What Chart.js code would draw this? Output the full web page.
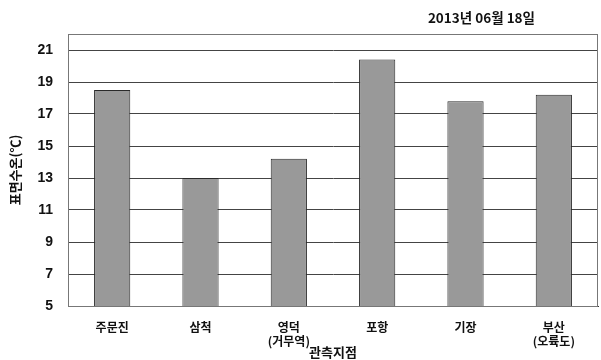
<!DOCTYPE html>
<html>
<head>
<meta charset="utf-8">
<script src="https://cdn.jsdelivr.net/npm/chart.js@4"></script>
<style>
  html, body { margin: 0; padding: 0; background: #fff; }
  #wrap { width: 601px; height: 360px; }
</style>
</head>
<body>
<div id="wrap"><canvas id="grafico" width="601" height="360"></canvas></div>
<script>
// dados
const categorias = ['주문진', '삼척', ['영덕', '(거무역)'], '포항', '기장', ['부산', '(오륙도)']];
const temperaturas = [18.5, 13.0, 14.2, 20.4, 17.8, 18.2];
const ticksY = [5, 7, 9, 11, 13, 15, 17, 19, 21];
const dataTexto = '2013년 06월 18일';

const fonteBase = "'Liberation Sans', 'Noto Sans CJK KR', sans-serif";
const fonteKR = "'Noto Sans CJK KR', 'Liberation Sans', sans-serif";

// moldura do gráfico + data no canto
const molduraPlugin = {
    id: 'moldura',
    afterDraw(chart) {
        const { ctx, chartArea } = chart;
        ctx.save();
        ctx.strokeStyle = '#777';
        ctx.lineWidth = 1;
        ctx.strokeRect(chartArea.left + 0.5, chartArea.top + 0.5, chartArea.right - chartArea.left - 1, chartArea.bottom - chartArea.top);
        ctx.fillStyle = '#111';
        ctx.font = "bold 13.5px " + fonteKR;
        ctx.textAlign = 'right';
        ctx.textBaseline = 'middle';
        ctx.fillText(dataTexto, chartArea.right - 63, 18);
        ctx.restore();
    }
};

new Chart(document.getElementById('grafico').getContext('2d'), {
    type: 'bar',
    data: {
        labels: categorias,
        datasets: [{
            data: temperaturas,
            backgroundColor: '#999999',
            borderColor: '#2a2a2a',
            borderWidth: 1,
            barPercentage: 0.41,
            categoryPercentage: 1
        }]
    },
    options: {
        responsive: false,
        animation: false,
        layout: { padding: { top: 34, right: 3, left: 0, bottom: 0 } },
        plugins: {
            legend: { display: false },
            tooltip: { enabled: false }
        },
        scales: {
            x: {
                grid: { display: false },
                border: { display: true, color: '#333' },
                ticks: {
                    color: '#111',
                    padding: 6,
                    font: { family: fonteKR, weight: 'bold', size: 12 },
                    maxRotation: 0
                },
                title: {
                    display: true,
                    text: '관측지점',
                    color: '#111',
                    font: { family: fonteKR, weight: 'bold', size: 13 },
                    padding: { top: -7, bottom: 0 }
                },
                afterFit(scale) { scale.height = 54; }
            },
            y: {
                min: 5,
                max: 22,
                afterBuildTicks(scale) {
                    scale.ticks = ticksY.concat([22]).map(v => ({ value: v }));
                },
                grid: { color: '#444', drawTicks: false },
                border: { display: true, color: '#333' },
                ticks: {
                    color: '#111',
                    padding: 15,
                    font: { family: fonteBase, weight: 'bold', size: 14 },
                    callback: (v) => ticksY.includes(v) ? v : ''
                },
                title: {
                    display: true,
                    text: '표면수온(℃)',
                    color: '#111',
                    font: { family: fonteKR, weight: 'bold', size: 13 },
                    padding: { top: 7, bottom: 0 }
                },
                afterFit(scale) { scale.width = 68; }
            }
        }
    },
    plugins: [molduraPlugin]
});
</script>
</body>
</html>
